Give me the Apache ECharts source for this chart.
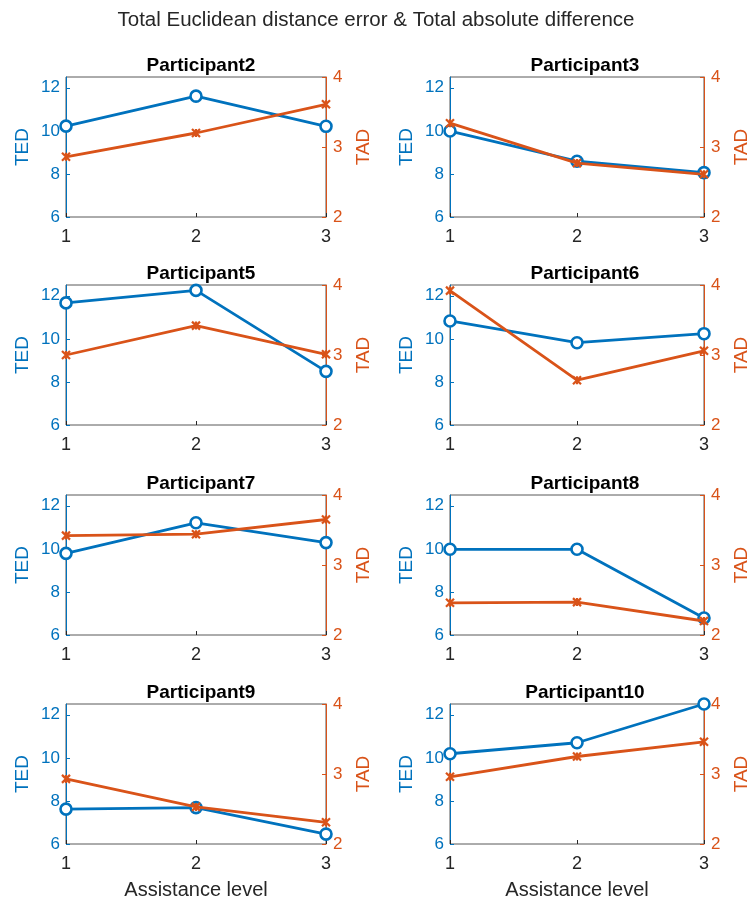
<!DOCTYPE html>
<html>
<head>
<meta charset="utf-8">
<script src="https://cdn.jsdelivr.net/npm/echarts@6/dist/echarts.min.js"></script>
<style>
  html, body { margin: 0; padding: 0; background: #fff; }
  #chart { width: 752px; height: 904px; }
</style>
</head>
<body>
<div id="chart"></div>
<script>
// Assistance levels on the x axis
const levels = [1, 2, 3];

// Participants, one panel each
const participants = ['Participant2', 'Participant3', 'Participant5', 'Participant6',
                      'Participant7', 'Participant8', 'Participant9', 'Participant10'];

// Total Euclidean distance error (left axis) per participant
const ted2  = [10.22, 11.61, 10.21];
const ted3  = [9.99, 8.59, 8.06];
const ted5  = [11.67, 12.25, 8.49];
const ted6  = [10.83, 9.82, 10.24];
const ted7  = [9.79, 11.21, 10.29];
const ted8  = [9.98, 9.98, 6.79];
const ted9  = [7.62, 7.69, 6.46];
const ted10 = [10.19, 10.70, 12.50];

// Total absolute difference (right axis) per participant
const tad2  = [2.86, 3.20, 3.61];
const tad3  = [3.34, 2.77, 2.61];
const tad5  = [3.00, 3.42, 3.01];
const tad6  = [3.92, 2.64, 3.06];
const tad7  = [3.42, 3.44, 3.65];
const tad8  = [2.46, 2.47, 2.20];
const tad9  = [2.93, 2.53, 2.31];
const tad10 = [2.96, 3.25, 3.46];

const tedValues = [ted2, ted3, ted5, ted6, ted7, ted8, ted9, ted10];
const tadValues = [tad2, tad3, tad5, tad6, tad7, tad8, tad9, tad10];

// Axis tick settings
const tedTicks = { min: 6, max: 12.5, interval: 2 };
const tadTicks = { min: 2, max: 4, interval: 1 };

const BLUE = '#0072BD';
const ORANGE = '#D95319';
const INK = '#262626';
const FONT = '"Liberation Sans", Arial, Helvetica, sans-serif';

const colLeft = [66, 450];
const rowTop = [77, 285, 495, 704];
const plotW = 260;
const plotH = 140;

const crossPath = 'path://M0,0L10,10M10,0L0,10M5,0L5,10';

const grids = [], xAxes = [], yAxes = [], series = [], titles = [];

titles.push({
  text: 'Total Euclidean distance error & Total absolute difference',
  left: 'center', top: 5,
  textStyle: { fontFamily: FONT, fontSize: 20.5, fontWeight: 'normal', color: INK }
});

participants.forEach((name, i) => {
  const col = i % 2, row = Math.floor(i / 2);
  const left = colLeft[col], top = rowTop[row];
  const isBottom = row === 3;

  grids.push({
    left: left, top: top, width: plotW, height: plotH,
    show: true, borderColor: '#595959', borderWidth: 1, backgroundColor: 'transparent'
  });

  titles.push({
    text: name,
    left: left + plotW / 2, top: top - 26, textAlign: 'center',
    textStyle: { fontFamily: FONT, fontSize: 19, fontWeight: 'bold', color: '#000' }
  });

  xAxes.push({
    gridIndex: i, type: 'value', min: 1, max: 3, interval: 1,
    axisLine: { show: false },
    axisTick: { show: true, inside: true, length: 4, lineStyle: { color: INK } },
    splitLine: { show: false },
    axisLabel: { color: INK, fontFamily: FONT, fontSize: 18, margin: 11 },
    name: isBottom ? 'Assistance level' : '',
    nameLocation: 'middle', nameGap: 36,
    nameTextStyle: { color: INK, fontFamily: FONT, fontSize: 20 }
  });

  yAxes.push({
    gridIndex: i, type: 'value', position: 'left',
    min: tedTicks.min, max: tedTicks.max, interval: tedTicks.interval,
    axisLine: { show: true, lineStyle: { color: BLUE, width: 1 } },
    axisTick: { show: true, inside: true, length: 4, lineStyle: { color: BLUE } },
    splitLine: { show: false },
    axisLabel: { color: BLUE, fontFamily: FONT, fontSize: 17, margin: 6, showMaxLabel: false },
    name: 'TED', nameLocation: 'middle', nameGap: 34,
    nameTextStyle: { color: BLUE, fontFamily: FONT, fontSize: 19 }
  });
  yAxes.push({
    gridIndex: i, type: 'value', position: 'right',
    min: tadTicks.min, max: tadTicks.max, interval: tadTicks.interval,
    axisLine: { show: true, lineStyle: { color: ORANGE, width: 1 } },
    axisTick: { show: true, inside: true, length: 4, lineStyle: { color: ORANGE } },
    splitLine: { show: false },
    axisLabel: { color: ORANGE, fontFamily: FONT, fontSize: 17, margin: 7 },
    name: 'TAD', nameLocation: 'middle', nameGap: 28,
    nameTextStyle: { color: ORANGE, fontFamily: FONT, fontSize: 19 }
  });

  series.push({
    type: 'line', name: 'TED',
    xAxisIndex: i, yAxisIndex: 2 * i,
    data: levels.map((lv, k) => [lv, tedValues[i][k]]),
    symbol: 'circle', symbolSize: 11,
    lineStyle: { color: BLUE, width: 2.8 },
    itemStyle: { color: '#fff', borderColor: BLUE, borderWidth: 2.6 },
    emphasis: { disabled: true }, animation: false, z: 2
  });
  series.push({
    type: 'line', name: 'TAD',
    xAxisIndex: i, yAxisIndex: 2 * i + 1,
    data: levels.map((lv, k) => [lv, tadValues[i][k]]),
    symbol: crossPath, symbolSize: 8, symbolKeepAspect: true,
    lineStyle: { color: ORANGE, width: 2.8 },
    itemStyle: { color: ORANGE, borderColor: ORANGE, borderWidth: 2.2 },
    emphasis: { disabled: true }, animation: false, z: 3
  });
});

const chart = echarts.init(document.getElementById('chart'), null, { renderer: 'canvas' });
chart.setOption({
  backgroundColor: '#fff',
  animation: false,
  title: titles,
  grid: grids,
  xAxis: xAxes,
  yAxis: yAxes,
  series: series
});
</script>
</body>
</html>
